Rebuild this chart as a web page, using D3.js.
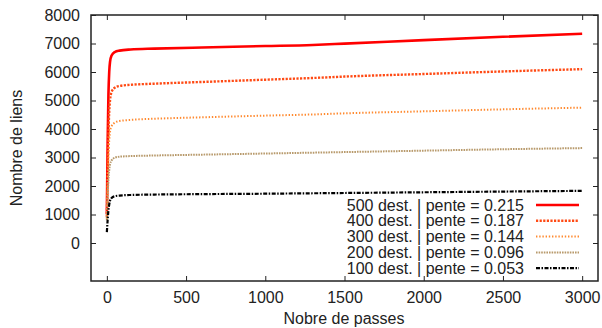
<!DOCTYPE html>
<html>
<head>
<meta charset="utf-8">
<script src="https://cdn.jsdelivr.net/npm/d3@7"></script>
<style>
  body { margin: 0; background: #fff; }
  svg text { font-family: "Liberation Sans", Arial, sans-serif; fill: #222; }
</style>
</head>
<body>
<svg width="602" height="328"></svg>
<script>
// passes (x), shared by every series
const passes = [0, 5, 10, 15, 20, 30, 50, 80, 150, 300, 600, 1000, 1300, 1500, 2000, 2500, 3000];

const liens500 = [1000, 3500, 5200, 6000, 6350, 6580, 6700, 6750, 6790, 6820, 6860, 6910, 6950, 6995, 7120, 7235, 7340];
const liens400 = [900, 2500, 3800, 4600, 5000, 5300, 5450, 5510, 5550, 5590, 5650, 5730, 5790, 5840, 5930, 6020, 6100];
const liens300 = [850, 2000, 3000, 3600, 3900, 4100, 4220, 4280, 4320, 4360, 4410, 4470, 4510, 4550, 4620, 4690, 4750];
const liens200 = [800, 1600, 2200, 2550, 2750, 2900, 2990, 3030, 3050, 3070, 3100, 3140, 3170, 3190, 3240, 3290, 3330];
const liens100 = [380, 800, 1150, 1350, 1480, 1580, 1640, 1665, 1685, 1700, 1715, 1730, 1745, 1755, 1780, 1805, 1830];

const labels = ["500 dest. | pente = 0.215", "400 dest. | pente = 0.187", "300 dest. | pente = 0.144",
                "200 dest. | pente = 0.096", "100 dest. | pente = 0.053"];
const xTicks = [0, 500, 1000, 1500, 2000, 2500, 3000];
const yTicks = [0, 1000, 2000, 3000, 4000, 5000, 6000, 7000, 8000];

const series = [
  { vals: liens500, color: "#ff0000", width: 2.6, dash: null },
  { vals: liens400, color: "#ff4a14", width: 2.4, dash: "2.2,1.4" },
  { vals: liens300, color: "#ff8a30", width: 2, dash: "1.4,1.8" },
  { vals: liens200, color: "#b89a6c", width: 2, dash: "1.6,1" },
  { vals: liens100, color: "#000000", width: 2.2, dash: "4,1.5,1.5,1.5" }
];

const svg = d3.select("svg");
const mLeft = 91, mRight = 598, mTop = 15, mBottom = 281;
const fs = 16;

let x = d3.scaleLinear().domain([-100, 3100]).range([mLeft, mRight]);
let y = d3.scaleLinear().domain([-1333, 8000]).range([mBottom, mTop]);

// curves
let line = d3.line().x((d) => x(d[0])).y((d) => y(d[1])).curve(d3.curveMonotoneX);
series.forEach((s) => {
  svg.append("path")
    .attr("d", line(passes.map((p, i) => [p, s.vals[i]])))
    .attr("fill", "none")
    .attr("stroke", s.color)
    .attr("stroke-width", s.width)
    .attr("stroke-dasharray", s.dash);
});

// axes, ticks pointing inward and mirrored
const tk = 5;
svg.append("g").attr("transform", `translate(0,${mBottom})`)
  .call(d3.axisBottom(x).tickValues(xTicks).tickFormat(d3.format("d")).tickSizeInner(-tk).tickSizeOuter(0).tickPadding(11))
  .call((g) => g.select(".domain").remove());
svg.append("g").attr("transform", `translate(0,${mTop})`)
  .call(d3.axisTop(x).tickValues(xTicks).tickSizeInner(-tk).tickSizeOuter(0).tickFormat(""))
  .call((g) => g.select(".domain").remove());
svg.append("g").attr("transform", `translate(${mLeft},0)`)
  .call(d3.axisLeft(y).tickValues(yTicks).tickFormat(d3.format("d")).tickSizeInner(-tk).tickSizeOuter(0).tickPadding(11))
  .call((g) => g.select(".domain").remove());
svg.append("g").attr("transform", `translate(${mRight},0)`)
  .call(d3.axisRight(y).tickValues(yTicks).tickSizeInner(-tk).tickSizeOuter(0).tickFormat(""))
  .call((g) => g.select(".domain").remove());

svg.selectAll(".tick line").attr("stroke", "#222").attr("stroke-width", 1);
svg.selectAll("g").attr("font-size", fs).attr("font-family", "Liberation Sans, Arial, sans-serif");
svg.selectAll(".tick text").attr("fill", "#222");

svg.append("rect")
  .attr("x", mLeft).attr("y", mTop)
  .attr("width", mRight - mLeft).attr("height", mBottom - mTop)
  .attr("fill", "none").attr("stroke", "#222").attr("stroke-width", 1.5);

// legend
let legend = svg.append("g");
series.forEach((s, idx) => {
  let ly = 205 + idx * 15.8;
  legend.append("text")
    .attr("x", 524).attr("y", ly).attr("dy", "0.35em")
    .attr("text-anchor", "end").attr("font-size", fs)
    .text(labels[idx]);
  legend.append("line")
    .attr("x1", 536).attr("x2", 579).attr("y1", ly).attr("y2", ly)
    .attr("stroke", s.color).attr("stroke-width", s.width)
    .attr("stroke-dasharray", s.dash);
});

// axis titles
svg.append("text")
  .attr("x", 344).attr("y", 324)
  .attr("text-anchor", "middle").attr("font-size", fs)
  .text("Nobre de passes");
svg.append("text")
  .attr("transform", "translate(22,148) rotate(-90)")
  .attr("text-anchor", "middle").attr("font-size", fs)
  .text("Nombre de liens");
</script>
</body>
</html>
